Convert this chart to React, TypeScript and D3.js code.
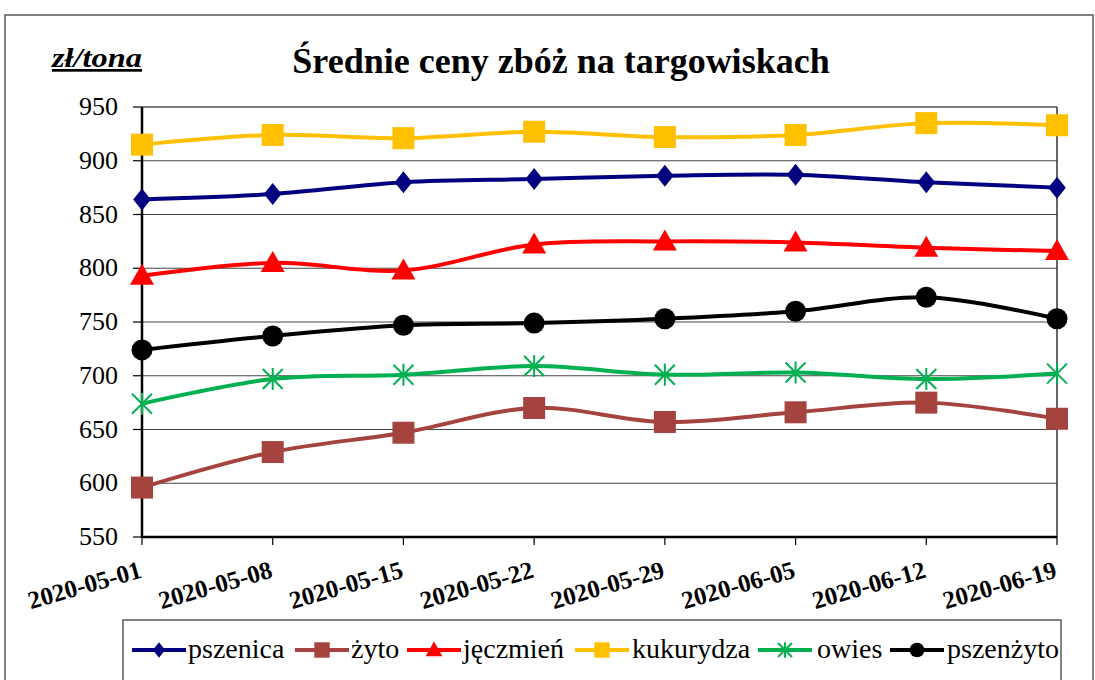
import React, { useEffect, useRef } from "react";
import * as d3 from "d3";

const dates = ["2020-05-01","2020-05-08","2020-05-15","2020-05-22","2020-05-29","2020-06-05","2020-06-12","2020-06-19"];
const pszenica = [864, 869, 880, 883, 886, 887, 880, 875];
const zyto = [596, 629, 647, 670, 657, 666, 675, 660];
const jeczmien = [793, 805, 798, 822, 825, 824, 819, 816];
const kukurydza = [915, 924, 921, 927, 922, 924, 935, 933];
const owies = [674, 697, 701, 709, 701, 703, 697, 702];
const pszenzyto = [724, 737, 747, 749, 753, 760, 773, 753];
const yTicks = [550, 600, 650, 700, 750, 800, 850, 900, 950];

const seriesNames = ["pszenica", "żyto", "jęczmień", "kukurydza", "owies", "pszenżyto"];
const seriesData = [pszenica, zyto, jeczmien, kukurydza, owies, pszenzyto];
const seriesColors = ["#000080", "#A5443F", "#FF0000", "#FFC000", "#00B050", "#000000"];
const seriesMarkers = ["diamond", "square", "triangle", "square", "star", "circle"];

const W = 1095, H = 680;
const left = 142, right = 1057, top = 107, bottom = 537;
const FONT = "Liberation Serif";

function Marker({ type, x, y, color, s = 1 }: { type: string; x: number; y: number; color: string; s?: number }) {
  if (type === "diamond") {
    const r = 11 * s;
    return <path d={`M${x},${y - r}L${x + r * 0.8},${y}L${x},${y + r}L${x - r * 0.8},${y}Z`} fill={color} />;
  }
  if (type === "square") {
    const r = 11 * s;
    return <rect x={x - r} y={y - r} width={2 * r} height={2 * r} fill={color} />;
  }
  if (type === "triangle") {
    const r = 12 * s;
    return <path d={`M${x},${y - r}L${x + r},${y + r * 0.75}L${x - r},${y + r * 0.75}Z`} fill={color} />;
  }
  if (type === "circle") {
    return <circle cx={x} cy={y} r={10.5 * s} fill={color} />;
  }
  const r = 10 * s;
  return (
    <g stroke={color} strokeWidth={2}>
      <line x1={x - r} y1={y - r} x2={x + r} y2={y + r} />
      <line x1={x - r} y1={y + r} x2={x + r} y2={y - r} />
      <line x1={x} y1={y - r * 1.1} x2={x} y2={y + r * 1.1} />
    </g>
  );
}

export default function App() {
  const ref = useRef<SVGSVGElement>(null);
  useEffect(() => {
    if (!ref.current) return;
    d3.select(ref.current)
      .selectAll<SVGTextElement, unknown>("text")
      .each(function () {
        this.style.setProperty("font-family", `"${FONT}", "Times New Roman", serif`, "important");
      });
  }, []);

  const x = d3.scalePoint<string>().domain(dates).range([left, right]);
  const y = d3.scaleLinear().domain([550, 950]).range([bottom, top]);
  const line = d3
    .line<number>()
    .x((_, i) => x(dates[i]) as number)
    .y((d) => y(d))
    .curve(d3.curveCatmullRom.alpha(0.5));

  const legendItems = [
    { lx: 132, tx: 188 },
    { lx: 295, tx: 351 },
    { lx: 407, tx: 463 },
    { lx: 575, tx: 632 },
    { lx: 758, tx: 817 },
    { lx: 890, tx: 947 },
  ];

  const tf = { fontFamily: FONT };

  return (
    <svg ref={ref} width={W} height={H} style={{ position: "absolute", left: 0, top: 0 }}>
      <style>{`svg text, svg text.lbl { font-family: "Liberation Serif", "Times New Roman", serif !important; }`}</style>
      <rect x={5} y={15} width={1088} height={700} fill="#fff" stroke="#5a5a5a" strokeWidth={1.5} />
      <text className="lbl" style={tf} x={52} y={67} fontSize={27} fontWeight="bold" fontStyle="italic" textDecoration="underline" textLength={90} lengthAdjust="spacingAndGlyphs">zł/tona</text>
      <text className="lbl" style={tf} x={561} y={73} fontSize={36} fontWeight="bold" textAnchor="middle">Średnie ceny zbóż na targowiskach</text>

      {yTicks.map((t) => (
        <g key={t}>
          <line x1={left} x2={right} y1={y(t)} y2={y(t)} stroke={t === 950 ? "#000" : "#444"} strokeWidth={1.2} />
          <line x1={left - 9} x2={left} y1={y(t)} y2={y(t)} stroke="#000" strokeWidth={1.2} />
          <text className="lbl" style={tf} x={118} y={y(t) + 8} fontSize={26} textAnchor="end">{t}</text>
        </g>
      ))}
      <line x1={right} x2={right} y1={top} y2={bottom} stroke="#333" strokeWidth={1.5} />
      <line x1={left} x2={left} y1={top} y2={bottom + 1} stroke="#000" strokeWidth={2.5} />
      <line x1={left} x2={right} y1={bottom} y2={bottom} stroke="#000" strokeWidth={2.5} />
      {dates.map((d) => (
        <g key={d}>
          <line x1={x(d)} x2={x(d)} y1={bottom} y2={bottom + 8} stroke="#000" strokeWidth={1.2} />
          <text
            className="lbl"
            style={tf}
            transform={`translate(${(x(d) as number) + 1},${bottom + 40}) rotate(-16)`}
            fontSize={25}
            fontWeight="bold"
            textAnchor="end"
          >
            {d}
          </text>
        </g>
      ))}

      {seriesData.map((s, i) => (
        <g key={seriesNames[i]}>
          <path d={line(s) || ""} fill="none" stroke={seriesColors[i]} strokeWidth={4} />
          {s.map((v, j) => (
            <Marker key={j} type={seriesMarkers[i]} x={x(dates[j]) as number} y={y(v)} color={seriesColors[i]} />
          ))}
        </g>
      ))}

      <rect x={123} y={620} width={938} height={80} fill="#fff" stroke="#5a5a5a" strokeWidth={1.5} />
      {seriesNames.map((n, i) => {
        const it = legendItems[i];
        const cy = 650;
        return (
          <g key={n}>
            <line x1={it.lx} x2={it.lx + 54} y1={cy} y2={cy} stroke={seriesColors[i]} strokeWidth={4} />
            <Marker type={seriesMarkers[i]} x={it.lx + 27} y={cy} color={seriesColors[i]} s={0.7} />
            <text className="lbl" style={tf} x={it.tx} y={cy + 8} fontSize={28}>{n}</text>
          </g>
        );
      })}
    </svg>
  );
}
